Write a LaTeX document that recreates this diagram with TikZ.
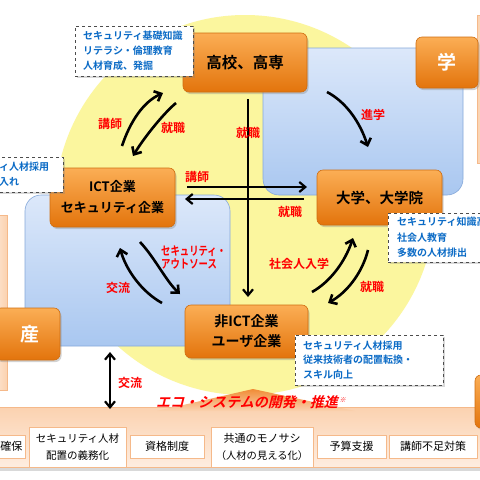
\documentclass[tikz,border=0pt]{standalone}
\usepackage{fontspec}
\setmainfont{Noto Sans CJK JP}[BoldFont={Noto Sans CJK JP Bold}]
\newfontfamily\ecofont{Noto Sans CJK JP Bold}[FakeSlant=0.25]
\usetikzlibrary{arrows.meta,shadows}
\definecolor{yel}{HTML}{FBF69E}
\definecolor{blueT}{HTML}{DCE8FA}
\definecolor{blueB}{HTML}{A9C7F0}
\definecolor{blueE}{HTML}{86A9DA}
\definecolor{orT}{HTML}{FBAE55}
\definecolor{orB}{HTML}{E3740C}
\definecolor{orE}{HTML}{CF6D10}
\definecolor{lblred}{HTML}{FF0000}
\definecolor{cblue}{HTML}{0B6BC6}
\definecolor{peachT}{HTML}{FBD2B0}
\definecolor{peachB}{HTML}{FEEDE0}
\definecolor{boxE}{HTML}{F5B98A}
\definecolor{triT}{HTML}{F08C36}
\tikzset{
  orangebox/.style={rectangle, rounded corners=6pt, draw=orE, line width=0.6pt,
    top color=orT, bottom color=orB, inner sep=0pt,
    drop shadow={opacity=0.35, shadow xshift=1.5pt, shadow yshift=-2pt},
    font=\bfseries\fontsize{14}{20}\selectfont, align=center},
  callout/.style={rectangle, draw=black!70, dashed, line width=0.8pt, fill=white, inner sep=0pt,
    drop shadow={opacity=0.3, shadow xshift=1.5pt, shadow yshift=-1.5pt}},
  ctext/.style={inner sep=0pt, align=left, text=cblue, font=\bfseries\fontsize{10}{14.8}\selectfont},
  lbl/.style={inner sep=0pt, text=lblred, font=\bfseries\fontsize{12}{14}\selectfont},
  bbox/.style={rectangle, draw=boxE, line width=0.8pt, fill=white, inner sep=0pt, align=center,
    font=\fontsize{11}{16.5}\selectfont},
  carrow/.style={line width=2.6pt, -{Straight Barb[length=6pt,width=11pt]}},
  sarrow/.style={line width=2.2pt, -{Straight Barb[length=6pt,width=10pt]}},
}
\begin{document}
\begin{tikzpicture}[x=1pt,y=-1pt]
\useasboundingbox (0,0) rectangle (480,480);
\clip (0,0) rectangle (480,480);
\fill[white] (0,0) rectangle (480,480);
% yellow circle
\fill[yel] (245,205) circle (190pt);
% blue areas
\draw[blueE, line width=0.6pt, top color=blueT, bottom color=blueB, rounded corners=16pt] (263,48) rectangle (463,195);
\draw[blueE, line width=0.6pt, top color=blueT, bottom color=blueB, rounded corners=16pt] (25,195) rectangle (230,346);
% side strips
\draw[boxE, line width=0.6pt, left color=peachB, right color=peachT] (-10,215) rectangle (7,390);
\draw[boxE, line width=0.6pt, left color=peachT, right color=peachB] (477,15) rectangle (495,163);
% bottom band
\fill[black!15] (-10,466) rectangle (490,471);
\draw[boxE, line width=0.6pt, top color=peachT, bottom color=peachB] (-10,407) rectangle (490,467);
% banner
\shade[top color=triT, bottom color=peachT] (157,411) -- (253,389) -- (355,411) -- cycle;
\node[inner sep=0pt, text=lblred, font=\ecofont\fontsize{14}{16}\selectfont] (eco) at (251,402) {エコ・システムの開発・推進\kern1.5pt\raisebox{5pt}{\fontsize{6.5}{7}\selectfont ※}};
% bottom boxes
\node[bbox, minimum width=65pt, minimum height=23pt] (b1) at (-7.5,446.5) {\hspace*{38pt}確保};
\node[bbox, minimum width=97pt, minimum height=40pt, font=\fontsize{10.5}{16.5}\selectfont] (b2) at (77.5,447) {セキュリティ人材\\配置の義務化};
\node[bbox, minimum width=74pt, minimum height=23pt] (b3) at (167,446.5) {資格制度};
\node[bbox, minimum width=102pt, minimum height=40pt] (b4) at (262,447) {共通のモノサシ\\{\fontsize{10.3}{12}\selectfont （人材の見える化）}};
\node[bbox, minimum width=69pt, minimum height=23pt] (b5) at (351.5,446.5) {予算支援};
\node[bbox, minimum width=88pt, minimum height=23pt] (b6) at (433,446.5) {講師不足対策};
% orange nodes
\node[orangebox, minimum width=124pt, minimum height=59pt, font=\bfseries\fontsize{15.5}{20}\selectfont] (kosen) at (245,62.5) {高校、高専};
\node[orangebox, minimum width=62pt, minimum height=51pt, text=white, font=\bfseries\fontsize{19}{20}\selectfont] (gaku) at (447,62.5) {学};
\node[orangebox, minimum width=125pt, minimum height=59pt, font=\bfseries\fontsize{13}{21}\selectfont] (ict) at (112.5,197.5) {ICT企業\\セキュリティ企業};
\node[orangebox, minimum width=125pt, minimum height=55pt, font=\bfseries\fontsize{14.5}{20}\selectfont] (dai) at (379.5,197.5) {大学、大学院};
\node[orangebox, minimum width=123pt, minimum height=53pt] (hiict) at (246.5,331.5) {非ICT企業\\ユーザ企業};
\node[orangebox, minimum width=65pt, minimum height=52pt, text=white, font=\bfseries\fontsize{19}{20}\selectfont] (san) at (27.5,334) {\hspace*{5pt}産};
\node[orangebox, minimum width=65pt, minimum height=53pt] (kan) at (507.5,401.5) {};
% callouts
\node[callout, minimum width=118pt, minimum height=50pt] (c1) at (134,51) {};
\node[ctext, anchor=west] (t1) at (83,51) {セキュリティ基礎知識\\リテラシ・倫理教育\\人材育成、発掘};
\node[callout, minimum width=123pt, minimum height=35pt] (c2) at (1.5,174.5) {};
\node[ctext, anchor=west] (t2) at (-1,174.5) {ィ人材採用\\入れ};
\node[callout, minimum width=112pt, minimum height=49pt] (c3) at (444,237.5) {};
\node[ctext, anchor=west, font=\bfseries\fontsize{10}{15.5}\selectfont] (t3) at (397,237.5) {セキュリティ知識高\\社会人教育\\多数の人材排出};
\node[callout, minimum width=148pt, minimum height=50pt] (c4) at (369,360) {};
\node[ctext, anchor=west] (t4) at (303,360) {セキュリティ人材採用\\従来技術者の配置転換・\\スキル向上};
% arrow end points
\coordinate (a1s) at (122,146); \coordinate (a1e) at (163,93);
\coordinate (a2s) at (176,103); \coordinate (a2e) at (133,156);
\coordinate (a3s) at (327,92);  \coordinate (a3e) at (368,147);
\coordinate (vs) at (248,99);   \coordinate (ve) at (248,297);
\coordinate (h1s) at (187,187); \coordinate (h1e) at (307,187);
\coordinate (h2s) at (304,199); \coordinate (h2e) at (185,199);
\coordinate (a4s) at (140,242); \coordinate (a4e) at (180,294);
\coordinate (a5s) at (162,303); \coordinate (a5e) at (120,248);
\coordinate (a6s) at (312,292); \coordinate (a6e) at (353,238);
\coordinate (a7s) at (368,250); \coordinate (a7e) at (328,303);
\coordinate (ds) at (110,352);  \coordinate (de) at (110,409);
% arrows
\draw[carrow] (a1s) .. controls (130,122) and (143,102) .. (a1e);
\draw[carrow] (a2s) .. controls (165,112) and (145,136) .. (a2e);
\draw[carrow] (a3s) .. controls (346,102) and (360,122) .. (a3e);
\draw[sarrow] (vs) -- (ve);
\draw[sarrow] (h1s) -- (h1e);
\draw[sarrow] (h2s) -- (h2e);
\draw[carrow] (a4s) .. controls (155,258) and (166,281) .. (a4e);
\draw[carrow] (a5s) .. controls (142,292) and (126,270) .. (a5e);
\draw[carrow] (a6s) .. controls (330,282) and (345,262) .. (a6e);
\draw[carrow] (a7s) .. controls (362,274) and (346,293) .. (a7e);
\draw[line width=2.2pt, {Straight Barb[length=6pt,width=10pt]}-{Straight Barb[length=6pt,width=10pt]}] (ds) -- (de);
% labels
\node[lbl] (l1) at (110,124) {講師};
\node[lbl] (l2) at (173,128) {就職};
\node[lbl] (l3) at (373,115) {進学};
\node[lbl] (l4) at (248,133) {就職};
\node[lbl] (l5) at (197,177) {講師};
\node[lbl] (l6) at (290,212) {就職};
\node[lbl, anchor=west] (l7) at (161,259) {\scalebox{0.78}[1]{\begin{tabular}{@{}l@{}}セキュリティ・\\[-1pt]アウトソース\end{tabular}}};
\node[lbl] (l8) at (118,288) {交流};
\node[lbl] (l9) at (299,264) {社会人入学};
\node[lbl] (l10) at (372,287) {就職};
\node[lbl] (l11) at (130,383) {交流};
\end{tikzpicture}
\end{document}
